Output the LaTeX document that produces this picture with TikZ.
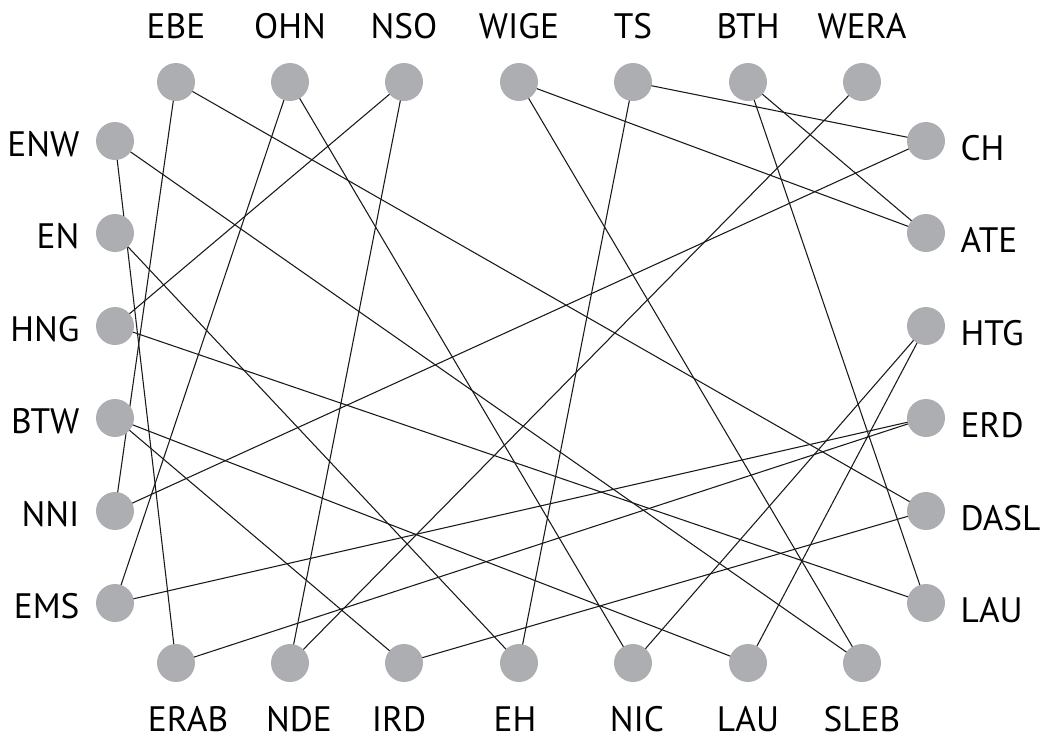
\documentclass[tikz,border=0pt]{standalone}
\usepackage{fontspec}
\setmainfont{PT Sans}
\usetikzlibrary{positioning,backgrounds}
\definecolor{dotgray}{HTML}{ADAEB2}

\begin{document}
\begin{tikzpicture}[
    x=0.75pt, y=-0.75pt,
    dot/.style={circle, fill=dotgray, minimum size=28.5pt, inner sep=0pt},
    lbl/.style={inner sep=0pt, font=\fontsize{26.5}{30}\selectfont},
    link/.style={line width=0.8pt, black!90}
]
\useasboundingbox (0,0) rectangle (1042,740);

% Top row
\node[dot] (ebe) at (176,82) {};
\node[dot] (ohn) at (290,82) {};
\node[dot] (nso) at (404,82) {};
\node[dot] (wige) at (519,82) {};
\node[dot] (ts) at (633,82) {};
\node[dot] (bth) at (748,82) {};
\node[dot] (wera) at (862,82) {};

% Left column
\node[dot] (enw) at (115,141) {};
\node[dot] (en) at (115,233) {};
\node[dot] (hng) at (115,326) {};
\node[dot] (btw) at (115,418) {};
\node[dot] (nni) at (115,511) {};
\node[dot] (ems) at (115,603) {};

% Right column
\node[dot] (ch) at (926,141) {};
\node[dot] (ate) at (926,233) {};
\node[dot] (htg) at (926,326) {};
\node[dot] (erd) at (926,418) {};
\node[dot] (dasl) at (926,511) {};
\node[dot] (laur) at (926,603) {};

% Bottom row
\node[dot] (erab) at (176,663) {};
\node[dot] (nde) at (290,663) {};
\node[dot] (ird) at (404,663) {};
\node[dot] (eh) at (519,663) {};
\node[dot] (nic) at (633,663) {};
\node[dot] (laub) at (748,663) {};
\node[dot] (sleb) at (862,663) {};

% Labels
\node[lbl, above=18pt of ebe] (ebeL) {EBE};
\node[lbl, above=18pt of ohn] (ohnL) {OHN};
\node[lbl, above=18pt of nso] (nsoL) {NSO};
\node[lbl, above=18pt of wige] (wigeL) {WIGE};
\node[lbl, above=18pt of ts] (tsL) {TS};
\node[lbl, above=18pt of bth] (bthL) {BTH};
\node[lbl, above=18pt of wera] (weraL) {WERA};

\node[lbl, left=12pt of enw, yshift=-2.6pt] (enwL) {ENW};
\node[lbl, left=12pt of en, yshift=-2.6pt] (enL) {EN};
\node[lbl, left=12pt of hng, yshift=-2.6pt] (hngL) {HNG};
\node[lbl, left=12pt of btw, yshift=-2.6pt] (btwL) {BTW};
\node[lbl, left=12pt of nni, yshift=-2.6pt] (nniL) {NNI};
\node[lbl, left=12pt of ems, yshift=-2.6pt] (emsL) {EMS};

\node[lbl, right=11.25pt of ch, yshift=-5.25pt] (chL) {CH};
\node[lbl, right=11.25pt of ate, yshift=-5.25pt] (ateL) {ATE};
\node[lbl, right=11.25pt of htg, yshift=-5.25pt] (htgL) {HTG};
\node[lbl, right=11.25pt of erd, yshift=-5.25pt] (erdL) {ERD};
\node[lbl, right=11.25pt of dasl, yshift=-5.25pt] (daslL) {DASL};
\node[lbl, right=11.25pt of laur, yshift=-5.25pt] (laurL) {LAU};

\node[lbl, below=18pt of erab, xshift=9pt] (erabL) {ERAB};
\node[lbl, below=18pt of nde, xshift=6.75pt] (ndeL) {NDE};
\node[lbl, below=18pt of ird, xshift=-3.75pt] (irdL) {IRD};
\node[lbl, below=18pt of eh, xshift=-3pt] (ehL) {EH};
\node[lbl, below=18pt of nic, xshift=3pt] (nicL) {NIC};
\node[lbl, below=18pt of laub] (laubL) {LAU};
\node[lbl, below=18pt of sleb] (slebL) {SLEB};

% Links
\begin{scope}[on background layer]
\draw[link] (ebe.center) -- (nni.center);
\draw[link] (ebe.center) -- (dasl.center);
\draw[link] (ohn.center) -- (ems.center);
\draw[link] (ohn.center) -- (nic.center);
\draw[link] (nso.center) -- (hng.center);
\draw[link] (nso.center) -- (nde.center);
\draw[link] (wige.center) -- (ate.center);
\draw[link] (wige.center) -- (sleb.center);
\draw[link] (ts.center) -- (ch.center);
\draw[link] (ts.center) -- (eh.center);
\draw[link] (bth.center) -- (ate.center);
\draw[link] (bth.center) -- (laur.center);
\draw[link] (wera.center) -- (nde.center);
\draw[link] (ch.center) -- (nni.center);
\draw[link] (htg.center) -- (nic.center);
\draw[link] (htg.center) -- (laub.center);
\draw[link] (erd.center) -- (ems.center);
\draw[link] (erd.center) -- (erab.center);
\draw[link] (dasl.center) -- (ird.center);
\draw[link] (enw.center) -- (erab.center);
\draw[link] (enw.center) -- (sleb.center);
\draw[link] (en.center) -- (eh.center);
\draw[link] (hng.center) -- (laur.center);
\draw[link] (btw.center) -- (ird.center);
\draw[link] (btw.center) -- (laub.center);
\end{scope}

\end{tikzpicture}
\end{document}
